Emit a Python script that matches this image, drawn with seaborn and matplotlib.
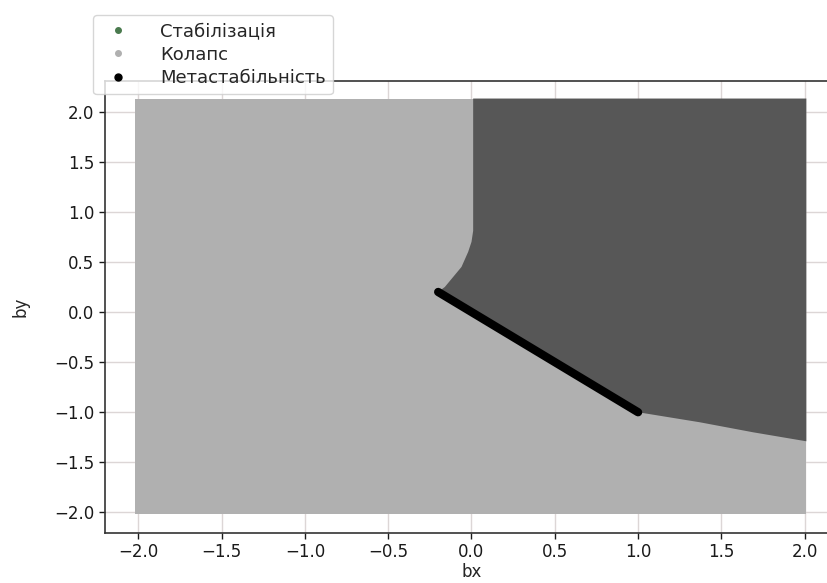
import matplotlib
matplotlib.use("Agg")
import matplotlib.pyplot as plt
import seaborn as sns
import pandas as pd
from matplotlib.lines import Line2D

# --- data ---
# Boundary of the "Стабілізація" region, (bx, by) vertices
stab_bx = [0.01, 0.01, 0.0, -0.02, -0.06, -0.11, -0.16, -0.20, 1.00, 1.37, 1.69, 2.01, 2.01]
stab_by = [2.13, 0.81, 0.70, 0.60, 0.45, 0.35, 0.25, 0.20, -1.00, -1.10, -1.20, -1.29, 2.13]
# Whole scanned grid ("Колапс" everywhere else)
grid_bx = [-2.02, 2.01, 2.01, -2.02]
grid_by = [-2.02, -2.02, 2.13, 2.13]
# "Метастабільність" segment
meta_bx = [-0.2, 0.2, 0.6, 1.0]
meta_by = [0.2, -0.2, -0.6, -1.0]

labels = ["Стабілізація", "Колапс", "Метастабільність"]
x_ticks = [-2.0, -1.5, -1.0, -0.5, 0.0, 0.5, 1.0, 1.5, 2.0]
y_ticks = [-2.0, -1.5, -1.0, -0.5, 0.0, 0.5, 1.0, 1.5, 2.0]

stab_color = "#575757"
stab_legend = "#4a7a4e"
coll_color = "#b0b0b0"
meta_color = "#000000"

sns.set_theme(style="ticks")
plt.rcParams["font.family"] = ["DejaVu Sans"]

fig = plt.figure(figsize=(8.28, 5.83), dpi=100)
ax = fig.add_axes([105 / 828, 50 / 583, 733 / 828, 452 / 583])

ax.grid(True, color="#dcd6d6", linewidth=1.0, zorder=0)
ax.set_axisbelow(True)

ax.fill(grid_bx, grid_by, color=coll_color, linewidth=0, zorder=1)
ax.fill(stab_bx, stab_by, color=stab_color, linewidth=0, zorder=2)

meta_df = pd.DataFrame({"bx": meta_bx, "by": meta_by})
sns.lineplot(data=meta_df, x="bx", y="by", ax=ax, color=meta_color,
             linewidth=6, solid_capstyle="round", zorder=3, sort=False)

ax.set_xlim(-2.2, 2.2)
ax.set_ylim(-2.205, 2.305)
ax.set_xticks(x_ticks)
ax.set_yticks(y_ticks)
ax.tick_params(labelsize=12, colors="#1a1a1a", length=4, width=1)
ax.set_xlabel("bx", fontsize=12, labelpad=1)
ax.set_ylabel("by", fontsize=12, labelpad=18)
for s in ["left", "bottom", "top"]:
    ax.spines[s].set_visible(True)
    ax.spines[s].set_color("#333333")
    ax.spines[s].set_linewidth(1.2)
ax.spines["right"].set_visible(False)

handles = [
    Line2D([], [], marker="o", linestyle="none", color=stab_legend, markersize=4),
    Line2D([], [], marker="o", linestyle="none", color=coll_color, markersize=4),
    Line2D([], [], marker="o", linestyle="none", color=meta_color, markersize=5),
]
leg = fig.legend(handles, labels, loc="upper left",
                 bbox_to_anchor=(93 / 828, 1 - 15 / 583), borderaxespad=0,
                 fontsize=13, frameon=True, framealpha=0.8,
                 handletextpad=1.3, labelspacing=0.3, borderpad=0.4)
leg.get_frame().set_edgecolor("#cccccc")

fig.savefig("out.png", dpi=100)
